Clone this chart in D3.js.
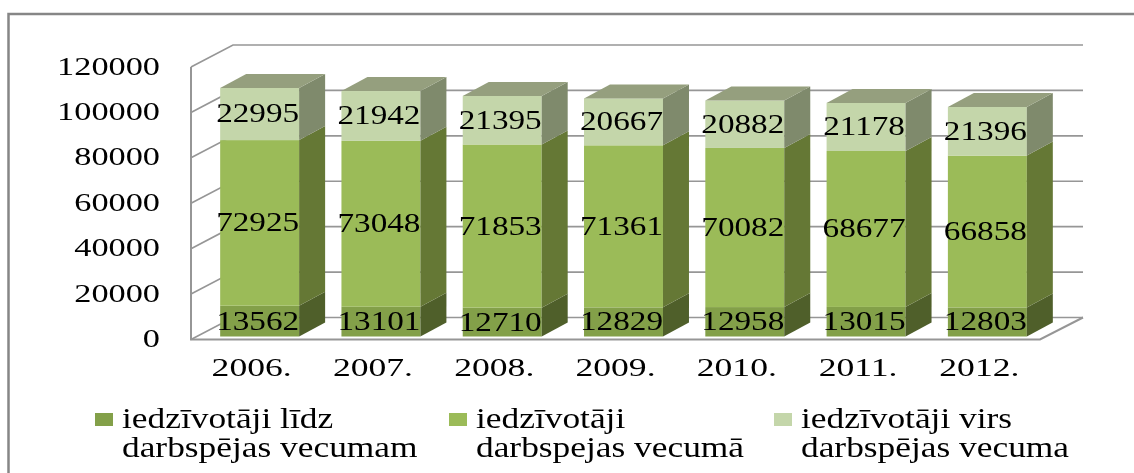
<!DOCTYPE html>
<html>
<head>
<meta charset="utf-8">
<script src="https://cdn.jsdelivr.net/npm/d3@7"></script>
<style>
  html, body { margin: 0; padding: 0; background: #fff; }
  text { font-family: "Liberation Serif", serif; fill: #000; }
</style>
</head>
<body>
<svg id="chart" width="1134" height="473"></svg>
<script>
const years = ["2006.", "2007.", "2008.", "2009.", "2010.", "2011.", "2012."];
const yTicks = [0, 20000, 40000, 60000, 80000, 100000, 120000];
const belowAge = [13562, 13101, 12710, 12829, 12958, 13015, 12803];
const workingAge = [72925, 73048, 71853, 71361, 70082, 68677, 66858];
const aboveAge = [22995, 21942, 21395, 20667, 20882, 21178, 21396];
const seriesNames = [
  ["iedzīvotāji līdz", "darbspējas vecumam"],
  ["iedzīvotāji", "darbspejas vecumā"],
  ["iedzīvotāji virs", "darbspējas vecuma"]
];

const seriesValues = [belowAge, workingAge, aboveAge];
const frontColors = ["#83A04A", "#9BBB59", "#C4D6AA"];
const sideColors = ["#4F5F2C", "#657836", "#7F8A6C"];
const topColor = "#959F7E";
const gridColor = "#969696";

const svg = d3.select("#chart");
const root = svg.append("g").attr("filter", "url(#soft)");
svg.append("defs").append("filter").attr("id", "soft")
  .append("feGaussianBlur").attr("stdDeviation", 0.45);

const x = d3.scaleBand().domain(years).range([191, 1040])
  .paddingInner(0.349).paddingOuter(0.1745);
const y = d3.scaleLinear().domain([0, 120000]).range([339.5, 67]);

// depth of the box walls and of the bars
const wallDx = 42, wallDy = -22;
const barDx = 26, barDy = -14;
const barShiftX = 8, barShiftY = -3;

// text is stretched wide in the original
function wideText(parent, str, px, py, anchor, size, sx) {
  return parent.append("text")
    .attr("transform", `translate(${px},${py}) scale(${sx},1)`)
    .attr("text-anchor", anchor)
    .attr("font-size", size)
    .text(str);
}

// outer frame, only top and left are visible
root.append("path")
  .attr("d", "M1134,14H8.5V473")
  .attr("fill", "none").attr("stroke", "#868686").attr("stroke-width", 2.5);

// walls and gridlines
yTicks.forEach(t => {
  root.append("path")
    .attr("d", `M191,${y(t)}L${191 + wallDx},${y(t) + wallDy}H1083`)
    .attr("fill", "none").attr("stroke", gridColor).attr("stroke-width", 1.6);
});
root.append("path")
  .attr("d", `M191,${y(120000)}V${y(0)}H1040L1083,${y(0) + wallDy}`)
  .attr("fill", "none").attr("stroke", gridColor).attr("stroke-width", 2);

// stacked bars
years.forEach((yr, i) => {
  const left = x(yr) + barShiftX;
  const right = left + x.bandwidth();
  let sum = 0;
  seriesValues.forEach((vals, s) => {
    const y0 = y(sum) + barShiftY;
    const y1 = y(sum + vals[i]) + barShiftY;
    sum += vals[i];
    root.append("rect")
      .attr("x", left).attr("y", y1)
      .attr("width", x.bandwidth()).attr("height", y0 - y1)
      .attr("fill", frontColors[s]);
    root.append("polygon")
      .attr("points", [[right, y0], [right + barDx, y0 + barDy], [right + barDx, y1 + barDy], [right, y1]].join(" "))
      .attr("fill", sideColors[s]);
    if (s === seriesValues.length - 1) {
      root.append("polygon")
        .attr("points", [[left, y1], [left + barDx, y1 + barDy], [right + barDx, y1 + barDy], [right, y1]].join(" "))
        .attr("fill", topColor);
    }
  });
});

// data labels
years.forEach((yr, i) => {
  const cx = x(yr) + barShiftX + x.bandwidth() / 2 - 2;
  let sum = 0;
  seriesValues.forEach(vals => {
    const mid = y(sum + vals[i] / 2) + barShiftY;
    sum += vals[i];
    wideText(root, vals[i], cx, mid + 8.5, "middle", 27, 1.23);
  });
});

// axis labels
yTicks.forEach(t => wideText(root, t, 160, y(t) + 7.5, "end", 26, 1.32));
years.forEach(yr => wideText(root, yr, x(yr) + x.bandwidth() / 2, 376, "middle", 26, 1.37));

// legend
const legendX = [95, 449, 774];
seriesNames.forEach((lines, s) => {
  root.append("rect")
    .attr("x", legendX[s]).attr("y", 413)
    .attr("width", 18).attr("height", 13)
    .attr("fill", frontColors[s]);
  lines.forEach((line, k) => {
    wideText(root, line, legendX[s] + 27, 428 + k * 29, "start", 29, 1.22);
  });
});
</script>
</body>
</html>
